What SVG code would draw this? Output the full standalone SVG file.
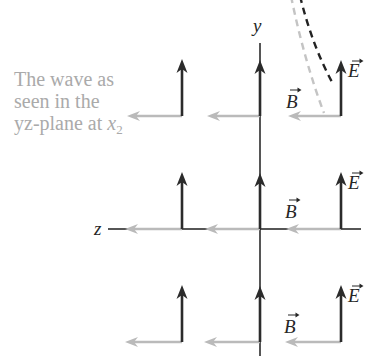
<svg xmlns="http://www.w3.org/2000/svg" width="372" height="356" viewBox="0 0 372 356">
<style>
.axis{stroke:#1e1e1e;stroke-width:1.5;fill:none}
.ev{stroke:#2b2b2b;stroke-width:2.6;fill:none;marker-end:url(#hE)}
.bv{stroke:#bababa;stroke-width:2.6;fill:none;marker-end:url(#hB)}
.lab{font-style:italic;font-size:19px;fill:#262626}
.cap{font-size:20px;fill:#aaaaaa}
.ov{stroke:#262626;stroke-width:1;fill:none}
.ovh{fill:#262626}
.dk{stroke:#222;stroke-width:2.4;fill:none;stroke-dasharray:7 5}
.lt{stroke:#c4c4c4;stroke-width:2.4;fill:none;stroke-dasharray:7 5}
</style>
<defs>
<marker id="hE" markerUnits="userSpaceOnUse" markerWidth="16" markerHeight="14" refX="4" refY="7" orient="auto" overflow="visible">
<path d="M14,7 L0,1.5 L4,7 L0,12.5 Z" fill="#2b2b2b"/>
</marker>
<marker id="hB" markerUnits="userSpaceOnUse" markerWidth="15" markerHeight="12" refX="4" refY="6" orient="auto" overflow="visible">
<path d="M13,6 L0,1 L4,6 L0,11 Z" fill="#bababa"/>
</marker>
</defs>
<g id="wave-curves">
<path class="lt" d="M291,-4 Q304,60 324,113"/>
<path class="dk" d="M300,-4 Q312,45 332,82"/>
</g>
<g id="axes">
<line class="axis" x1="260" y1="43" x2="260" y2="356"/>
<line class="axis" x1="108" y1="229" x2="361" y2="229"/>
</g>
<g id="connectors">
<line class="bv" x1="182" y1="116" x2="136" y2="116"/>
<line class="bv" x1="260" y1="116" x2="216" y2="116"/>
<line class="bv" x1="341" y1="116" x2="297" y2="116"/>
<line class="bv" x1="182" y1="229" x2="134" y2="229"/>
<line class="bv" x1="260" y1="229" x2="214" y2="229"/>
<line class="bv" x1="341" y1="229" x2="295" y2="229"/>
<line class="bv" x1="182" y1="342" x2="134" y2="342"/>
<line class="bv" x1="260" y1="342" x2="213" y2="342"/>
<line class="bv" x1="341" y1="342" x2="294" y2="342"/>
<line class="ev" x1="182" y1="116" x2="182" y2="69"/>
<line class="ev" x1="260" y1="116" x2="260" y2="70"/>
<line class="ev" x1="341" y1="116" x2="341" y2="70"/>
<line class="ev" x1="182" y1="229" x2="182" y2="182"/>
<line class="ev" x1="260" y1="229" x2="260" y2="183"/>
<line class="ev" x1="341" y1="229" x2="341" y2="182"/>
<line class="ev" x1="182" y1="342" x2="182" y2="295"/>
<line class="ev" x1="260" y1="342" x2="260" y2="296"/>
<line class="ev" x1="341" y1="342" x2="341" y2="295"/>
</g>
<g id="axis-labels" font-family="'Liberation Serif', 'Times New Roman', 'DejaVu Serif', serif">
<text class="lab" x="253" y="32">y</text>
<text class="lab" x="94" y="235">z</text>
</g>
<g id="E-labels" font-family="'Liberation Serif', 'Times New Roman', 'DejaVu Serif', serif">
<text class="lab" x="348" y="77">E</text>
<path class="ov" d="M352,61 H361"/><path class="ovh" d="M363.5,61 L359.5,58.6 L359.5,63.4 Z"/>
<text class="lab" x="348" y="189">E</text>
<path class="ov" d="M352,173 H361"/><path class="ovh" d="M363.5,173 L359.5,170.6 L359.5,175.4 Z"/>
<text class="lab" x="348" y="302">E</text>
<path class="ov" d="M352,286 H361"/><path class="ovh" d="M363.5,286 L359.5,283.6 L359.5,288.4 Z"/>
</g>
<g id="B-labels" font-family="'Liberation Serif', 'Times New Roman', 'DejaVu Serif', serif">
<text class="lab" x="286" y="108">B</text>
<path class="ov" d="M290,90 H299"/><path class="ovh" d="M301.5,90 L297.5,87.6 L297.5,92.4 Z"/>
<text class="lab" x="285" y="218">B</text>
<path class="ov" d="M289,200 H298"/><path class="ovh" d="M300.5,200 L296.5,197.6 L296.5,202.4 Z"/>
<text class="lab" x="284" y="333">B</text>
<path class="ov" d="M288,315 H297"/><path class="ovh" d="M299.5,315 L295.5,312.6 L295.5,317.4 Z"/>
</g>
<g id="caption" font-family="'Liberation Serif', 'Times New Roman', 'DejaVu Serif', serif">
<text class="cap" x="14" y="86">The wave as</text>
<text class="cap" x="14" y="108">seen in the</text>
<text class="cap" x="14" y="130">yz-plane at <tspan font-style="italic">x</tspan><tspan font-size="13" dy="4">2</tspan></text>
</g>
</svg>
